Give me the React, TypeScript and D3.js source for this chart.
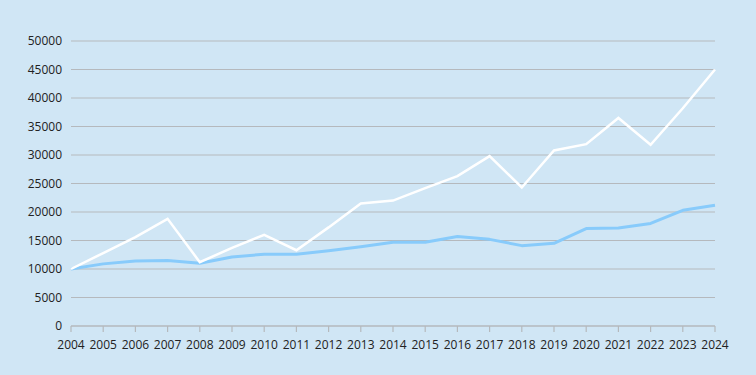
import React from "react";
import * as d3 from "d3";

const years = [2004, 2005, 2006, 2007, 2008, 2009, 2010, 2011, 2012, 2013, 2014, 2015, 2016, 2017, 2018, 2019, 2020, 2021, 2022, 2023, 2024];
const whiteSeries = [10000, 12800, 15600, 18800, 11200, 13700, 16000, 13300, 17300, 21500, 22000, 24200, 26300, 29800, 24300, 30800, 31900, 36500, 31800, 38200, 45000];
const blueSeries = [10000, 10900, 11400, 11500, 11000, 12100, 12600, 12600, 13200, 13900, 14700, 14700, 15700, 15200, 14100, 14500, 17100, 17200, 18000, 20300, 21200];
const yTicks = [0, 5000, 10000, 15000, 20000, 25000, 30000, 35000, 40000, 45000, 50000];

const W = 756, H = 375;
const M = { left: 71, right: 41, top: 41, bottom: 49 };

export default function App() {
  const x = d3.scaleLinear().domain([2004, 2024]).range([M.left, W - M.right]);
  const y = d3.scaleLinear().domain([0, 50000]).range([H - M.bottom, M.top]);
  const line = d3.line<number>().x((_, i) => x(years[i])).y((d) => y(d));
  const font = "'Open Sans', 'Noto Sans', sans-serif";
  return (
    <div style={{ position: "fixed", left: 0, top: 0, width: W, height: H }}>
      <svg width={W} height={H} style={{ display: "block" }}>
        <rect width={W} height={H} fill="#d0e6f5" />
        {yTicks.slice(1).map((t) => (
          <line key={t} x1={x(2004)} x2={x(2024)} y1={y(t)} y2={y(t)} stroke="#b5b9bd" strokeWidth={1.2} />
        ))}
        <line x1={x(2004)} x2={x(2024)} y1={y(0)} y2={y(0)} stroke="#b5b9bd" strokeWidth={1.5} />
        {years.map((yr) => (
          <line key={yr} x1={x(yr)} x2={x(yr)} y1={y(0)} y2={y(0) + 6} stroke="#b5b9bd" strokeWidth={1.2} />
        ))}
        {yTicks.map((t) => (
          <text key={t} x={62} y={y(t)} dy="0.35em" textAnchor="end" fontFamily={font} fontSize={12} fill="#222">
            {t}
          </text>
        ))}
        {years.map((yr) => (
          <text key={yr} x={x(yr)} y={349} textAnchor="middle" fontFamily={font} fontSize={12} fill="#222">
            {yr}
          </text>
        ))}
        <path d={line(blueSeries) || ""} fill="none" stroke="#88cbfb" strokeWidth={3} strokeLinejoin="round" />
        <path d={line(whiteSeries) || ""} fill="none" stroke="#ffffff" strokeWidth={2.5} strokeLinejoin="miter" />
      </svg>
    </div>
  );
}
